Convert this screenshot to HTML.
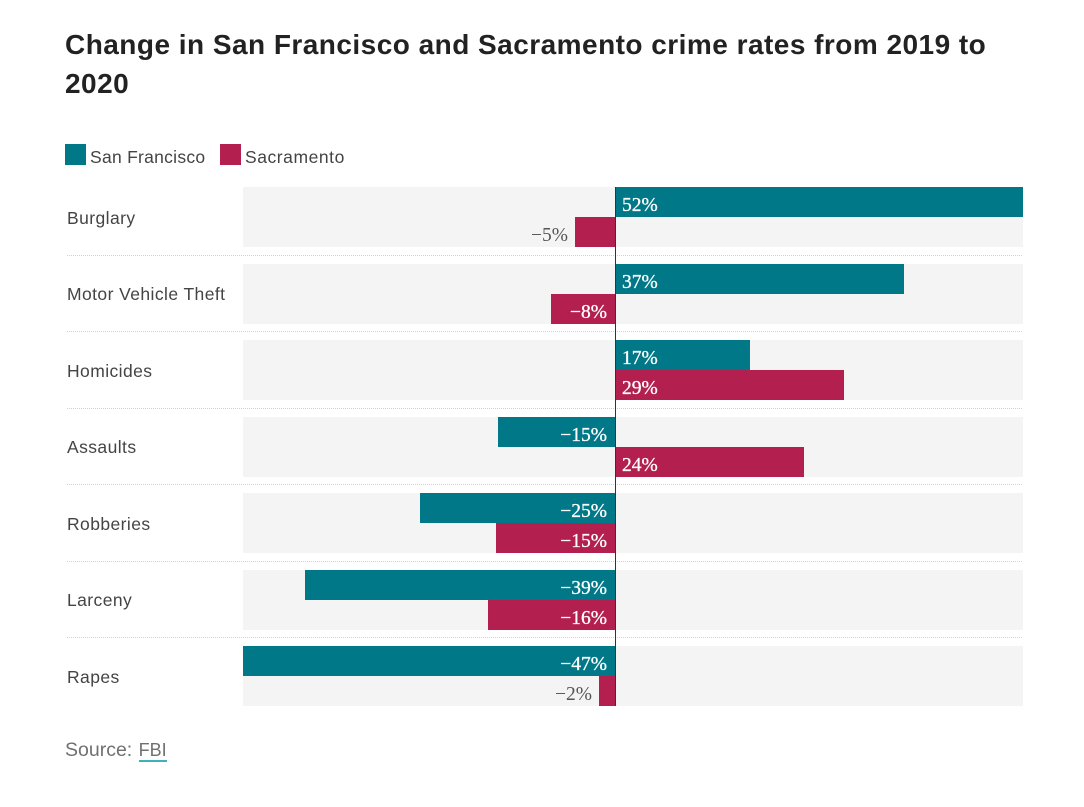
<!DOCTYPE html>
<html lang="en">
<head>
<meta charset="utf-8">
<title>Change in San Francisco and Sacramento crime rates from 2019 to 2020</title>
<style>
  html, body { margin: 0; padding: 0; background: #fff; }
  #page { position: relative; width: 1084px; height: 807px; overflow: hidden; font-family: "Liberation Sans", sans-serif; }
  #page > * { position: absolute; }
  #chart-title { left: 65px; top: 25px; width: 960px; margin: 0; font-size: 28px; line-height: 39px; font-weight: 700; color: #222; letter-spacing: 0.47px; }
  .swatch { width: 21px; height: 21px; top: 144px; }
  .legend-text { top: 147px; font-size: 17.5px; line-height: 21px; color: #444; white-space: nowrap; }
  #chart { left: 0; top: 0; }
  #source { left: 65px; top: 738px; font-size: 19.5px; line-height: 24px; color: #707070; white-space: nowrap; }
  #source a { display: inline-block; font-size: 18px; line-height: 19px; color: #707070; text-decoration: none; border-bottom: 2px solid #3fb1bd; margin-left: 1px; }
</style>
</head>
<body>
<div id="page">
  <h1 id="chart-title">Change in San Francisco and Sacramento crime rates from 2019 to 2020</h1>
  <div class="swatch" style="left:65px;background:#007888"></div>
  <div class="legend-text" style="left:90px;letter-spacing:0.27px">San Francisco</div>
  <div class="swatch" style="left:220px;background:#b31f4f"></div>
  <div class="legend-text" style="left:245px;letter-spacing:0.55px">Sacramento</div>
  <svg id="chart" width="1084" height="807" xmlns="http://www.w3.org/2000/svg"></svg>
  <div id="source">Source: <a href="#">FBI</a></div>
</div>
<script>
const categories = ["Burglary", "Motor Vehicle Theft", "Homicides", "Assaults", "Robberies", "Larceny", "Rapes"];
const sanFrancisco = [51.6, 36.5, 17.1, -14.8, -24.7, -39.2, -47.1];
const sacramento = [-5.1, -8.1, 29.0, 23.9, -15.1, -16.1, -2.0];
const domainMin = -47.1;
const domainMax = 51.6;

const SVG_NS = "http://www.w3.org/2000/svg";
const svg = document.getElementById("chart");
const plotLeft = 243;
const plotRight = 1023;
const plotTop = 187;
const rowStep = 76.5;
const barHeight = 30;
const teal = "#007888";
const crimson = "#b31f4f";

function xScale(v) {
  return Math.round(plotLeft + (v - domainMin) / (domainMax - domainMin) * (plotRight - plotLeft));
}
function rowY(i) {
  return Math.round(plotTop + i * rowStep);
}
function formatValue(v) {
  const r = Math.round(Math.abs(v));
  return (v < 0 ? "\u2212" : "") + r + "%";
}
function make(tag, attrs) {
  const el = document.createElementNS(SVG_NS, tag);
  for (const k in attrs) el.setAttribute(k, attrs[k]);
  svg.appendChild(el);
  return el;
}
function drawBar(v, y, color, key) {
  const x0 = xScale(0);
  const x1 = xScale(v);
  const left = Math.min(x0, x1);
  const w = Math.abs(x1 - x0);
  const bar = make("rect", { x: left, y: y, width: w, height: barHeight, fill: color });
  
  
  const inside = w >= 50;
  let tx, anchor;
  if (v >= 0) {
    tx = inside ? x0 + 7 : x1 + 7;
    anchor = "start";
  } else {
    tx = inside ? x0 - 8 : x1 - 7;
    anchor = "end";
  }
  const label = make("text", {
    x: tx, y: y + 24, "text-anchor": anchor,
    "font-family": '"Liberation Serif", serif',
    "font-size": 19.5,
    fill: inside ? "#fff" : "#555"
  });
  if (inside) {
    label.setAttribute("stroke", "#fff");
    label.setAttribute("stroke-width", "0.3");
  }
  label.textContent = formatValue(v);
  
  
}

categories.forEach(function (name, i) {
  const y = rowY(i);
  const slug = name.toLowerCase().replace(/\s+/g, "-");
  const bg = make("rect", { x: plotLeft, y: y, width: plotRight - plotLeft, height: barHeight * 2, fill: "#f4f4f4" });
  
  
  const cat = make("text", {
    x: 67, y: Math.floor(plotTop + i * rowStep) + 37,
    "font-family": '"Liberation Sans", sans-serif',
    "font-size": 17.5, "letter-spacing": 0.42, fill: "#444"
  });
  cat.textContent = name;
  
  
  if (i < categories.length - 1) {
    const sepY = Math.floor(plotTop + i * rowStep + 68) + 0.5;
    const sep = make("line", {
      x1: 67, x2: plotRight, y1: sepY, y2: sepY,
      stroke: "#d2d2d2", "stroke-width": 1, "stroke-dasharray": "1 1"
    });
    
    
  }
});

categories.forEach(function (name, i) {
  const y = rowY(i);
  const slug = name.toLowerCase().replace(/\s+/g, "-");
  drawBar(sanFrancisco[i], y, teal, "san-francisco-" + slug);
  drawBar(sacramento[i], y + barHeight, crimson, "sacramento-" + slug);
});

const axis = make("line", {
  x1: xScale(0) + 0.5, x2: xScale(0) + 0.5,
  y1: plotTop, y2: rowY(categories.length - 1) + barHeight * 2,
  stroke: "#333", "stroke-width": 1
});


</script>
</body>
</html>
